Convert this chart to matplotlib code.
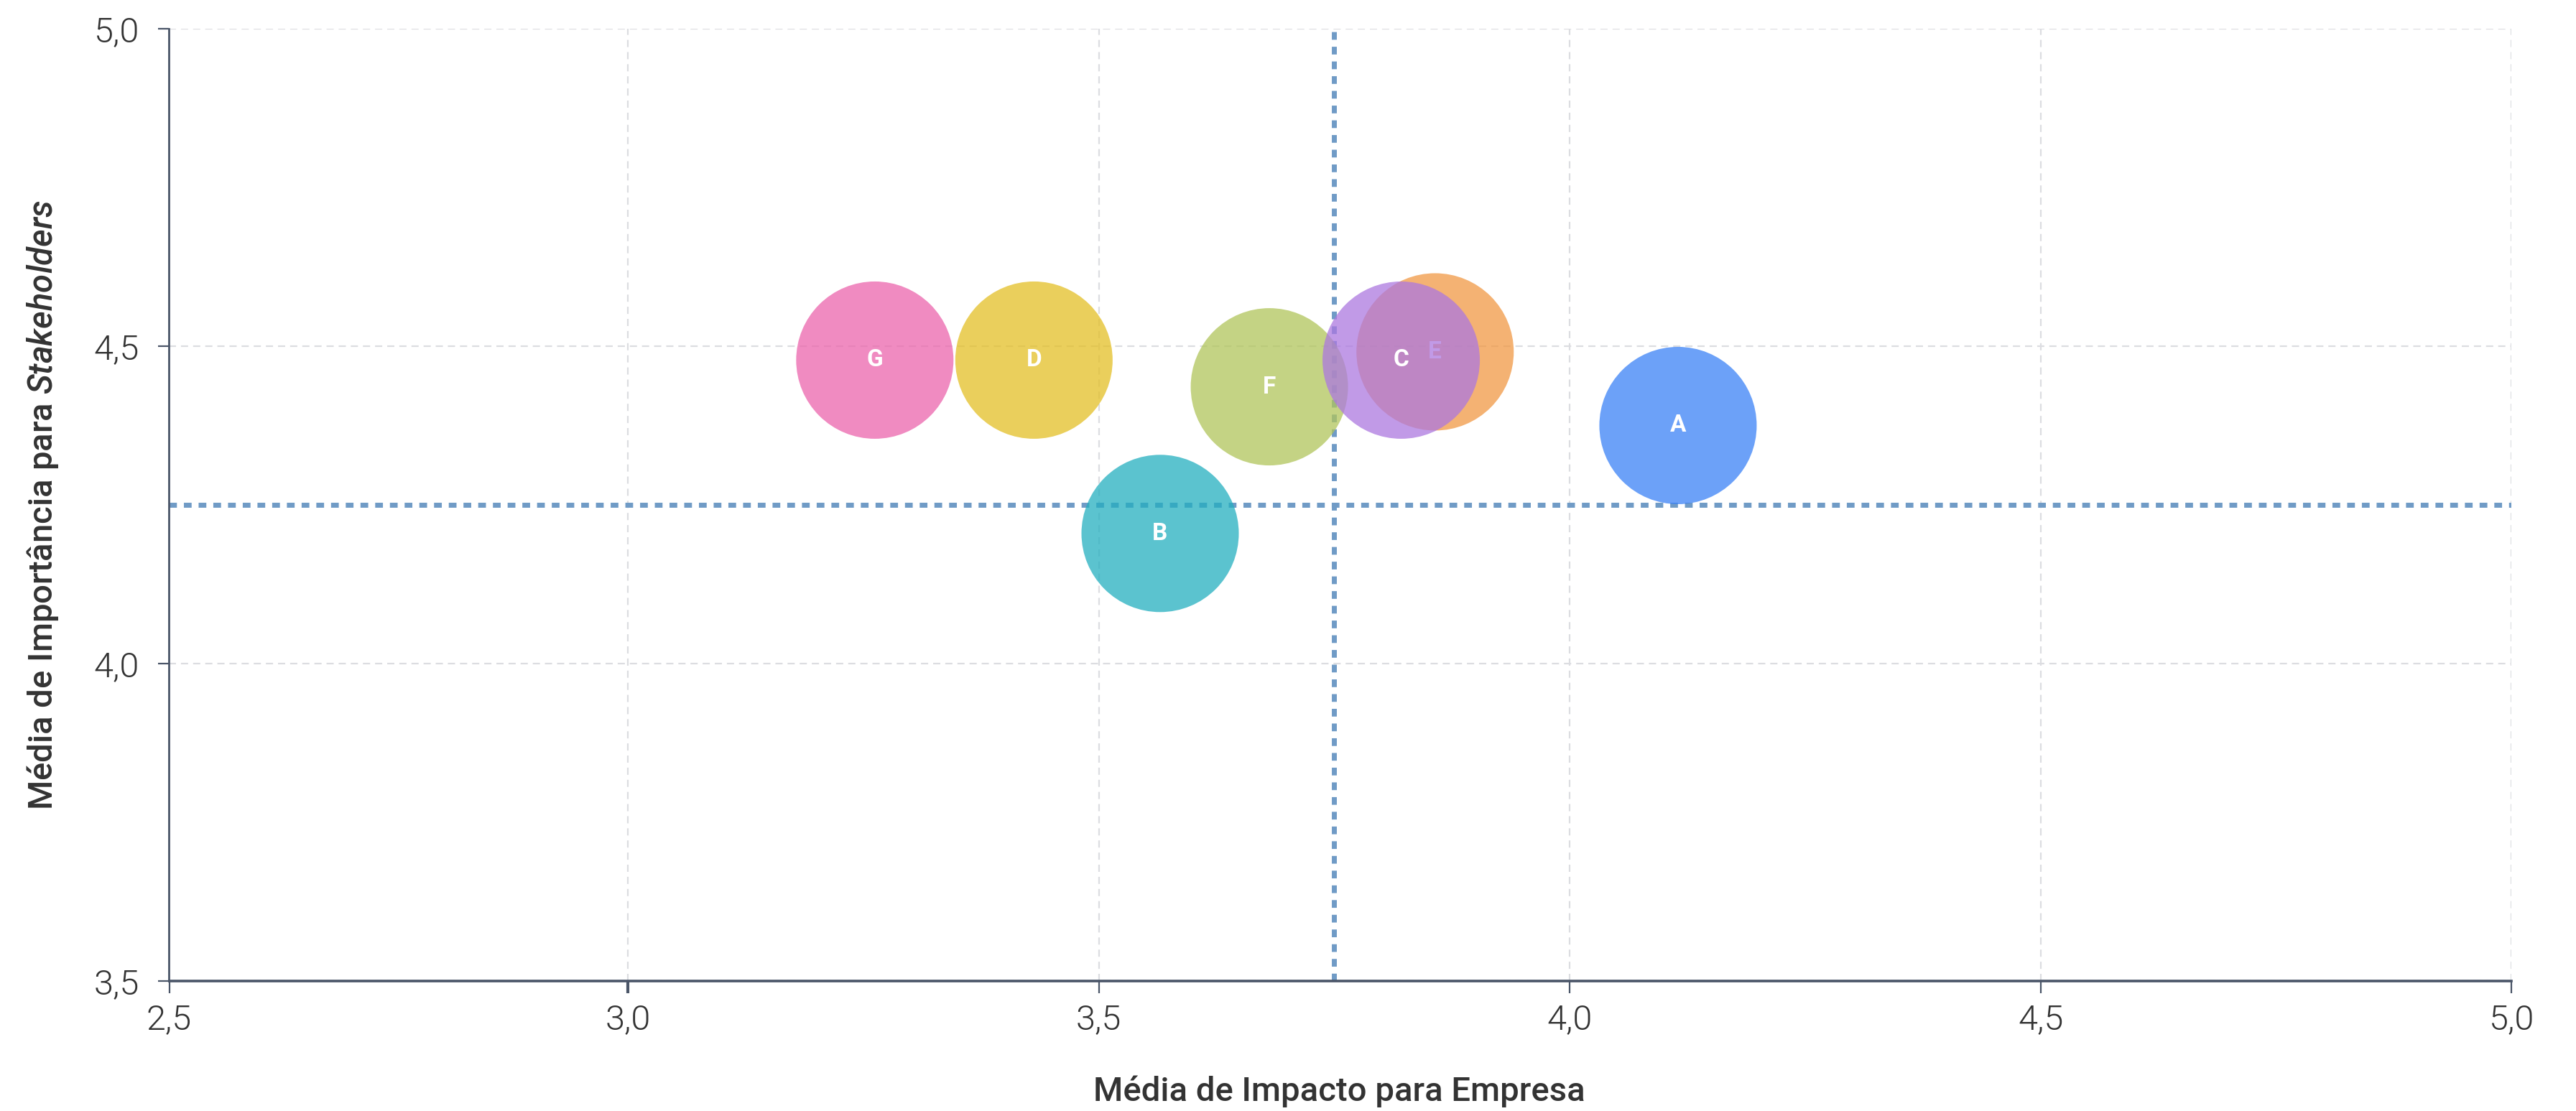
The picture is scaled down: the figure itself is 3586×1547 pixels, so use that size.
import matplotlib
matplotlib.use("Agg")
import matplotlib.pyplot as plt
from matplotlib.ticker import FixedLocator, FixedFormatter, MultipleLocator, FuncFormatter

# ---- data ----
labels = ["A", "B", "D", "G", "F", "E", "C"]
impacto = [4.115, 3.565, 3.431, 3.262, 3.681, 3.857, 3.821]     # x: Média de Impacto para Empresa
importancia = [4.375, 4.205, 4.478, 4.478, 4.436, 4.491, 4.478]  # y: Média de Importância para Stakeholders
colors = ["#3B82F6", "#24AFC0", "#E4BF25", "#EB65AC", "#B1C55B", "#F19844", "#AC78E0"]
ref_x = 3.75
ref_y = 4.25
x_ticks = [3.0, 3.5, 4.0, 4.5, 5.0]
x_ticklabels = ["2,5", "3,0", "3,5", "4,0", "4,5", "5,0"]
x_min = 2.5126
x_title = "Média de Impacto para Empresa"
y_title_plain = "Média de Importância para "
y_title_italic = "Stakeholders"

plt.rcParams["font.family"] = ["Roboto", "DejaVu Sans"]
plt.rcParams["mathtext.fontset"] = "custom"
plt.rcParams["mathtext.it"] = "Roboto:italic:medium"
plt.rcParams["mathtext.rm"] = "Roboto:medium"

W, H = 3586, 1547
fig = plt.figure(figsize=(W / 100, H / 100), dpi=100)
L, R, T, B = 235.5, 3496, 40, 1366
ax = fig.add_axes([L / W, 1 - B / H, (R - L) / W, (B - T) / H])

ax.set_xlim(x_min, 5.0)
ax.set_ylim(3.5, 5.0)
ax.xaxis.set_major_locator(FixedLocator([x_min] + x_ticks))
ax.xaxis.set_major_formatter(FixedFormatter(x_ticklabels))
ax.yaxis.set_major_locator(MultipleLocator(0.5))
ax.yaxis.set_major_formatter(FuncFormatter(lambda v, p: f"{v:.1f}".replace(".", ",")))

# grid
ax.grid(True, color="#DCDDE1", linewidth=1.6, linestyle=(0, (4.5, 3.1)), zorder=0)
ax.set_axisbelow(True)
ax.xaxis.get_gridlines()[0].set_visible(False)

# spines
for s in ["top", "right"]:
    ax.spines[s].set_visible(False)
ax.spines["left"].set_color("#4A5568")
ax.spines["left"].set_linewidth(2.0)
ax.spines["bottom"].set_color("#4A5568")
ax.spines["bottom"].set_linewidth(2.6)

ax.tick_params(axis="y", direction="out", length=11, width=1.6, color="#4A5568",
               pad=19, labelsize=35, labelcolor="#333333")
ax.tick_params(axis="x", direction="out", length=12, width=1.6, color="#4A5568",
               pad=10, labelsize=35, labelcolor="#333333")
for lab in ax.get_xticklabels() + ax.get_yticklabels():
    lab.set_fontweight(300)
ax.xaxis.get_major_ticks()[1].tick1line.set_color("#B8BEC6")
ax.xaxis.get_major_ticks()[1].tick1line.set_markeredgewidth(3)

# reference lines
ax.axvline(ref_x, color="#709BC6", linewidth=5, linestyle=(0, (1.55, 1.4)), zorder=1.5)
ax.axhline(ref_y, color="#709BC6", linewidth=5, linestyle=(0, (1.55, 1.4)), zorder=1.5)

# bubbles
diam_pt = 219 * 72 / 100
for i, (lab, x, y, c) in enumerate(zip(labels, impacto, importancia, colors)):
    z = 3 + i * 0.1
    ax.scatter([x], [y], s=diam_pt ** 2, color=c, alpha=0.75, edgecolors="none", zorder=z)
    ax.text(x, y, lab, ha="center", va="center", color="white", fontsize=24,
            fontweight="bold", zorder=z + 0.05)

# axis titles
fig.text(1864 / W, 1 - 1520 / H, x_title, ha="center", va="center",
         fontsize=34, fontweight="medium", color="#333333")
fig.text(60 / W, 1 - 703 / H, y_title_plain + r"$\it{" + y_title_italic + "}$",
         ha="center", va="center", rotation=90,
         fontsize=34, fontweight="medium", color="#333333")

fig.savefig("out.png", dpi=100)
